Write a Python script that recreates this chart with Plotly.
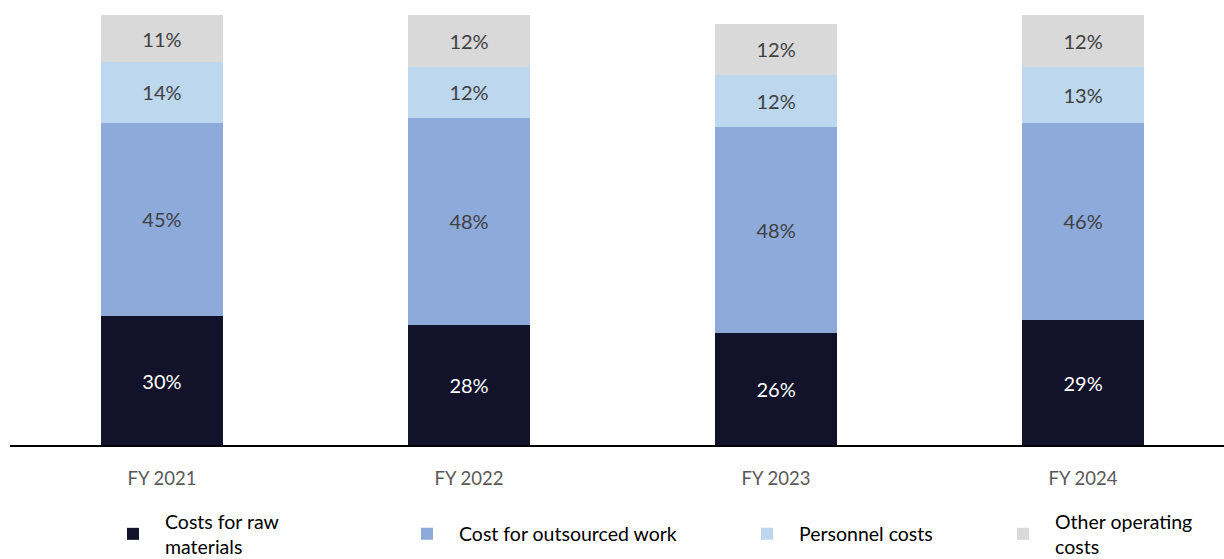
import plotly.graph_objects as go

# Cost structure by fiscal year (% of total operating costs)
years = ["FY 2021", "FY 2022", "FY 2023", "FY 2024"]
raw_materials = [30, 28, 26, 29]
outsourced_work = [45, 48, 48, 46]
personnel = [14, 12, 12, 13]
other_operating = [11, 12, 12, 12]

series = [
    ("Costs for raw<br>materials", raw_materials, "#12122a", "#ffffff", "legend"),
    ("Cost for outsourced work", outsourced_work, "#8eaadb", "#404040", "legend2"),
    ("Personnel costs", personnel, "#bdd7ee", "#404040", "legend3"),
    ("Other operating<br>costs", other_operating, "#d9d9d9", "#404040", "legend4"),
]

FONT = "Lato"
W, H = 1224, 559

fig = go.Figure()
for name, vals, color, txtcolor, leg in series:
    fig.add_trace(go.Bar(
        x=years, y=vals, name=name, legend=leg,
        marker=dict(color=color, line=dict(width=0)),
        text=[f"{v}%" for v in vals],
        textposition="inside", insidetextanchor="middle", textangle=0,
        textfont=dict(family=FONT, size=20, color=txtcolor),
        hoverinfo="skip",
    ))

# one legend box per series, placed along the bottom of the page
legend_marker_x = [133, 427, 767, 1023]
legend_y = 534
legends = {}
for i, key in enumerate(["legend", "legend2", "legend3", "legend4"]):
    legends[key] = dict(
        xref="container", yref="container",
        x=(legend_marker_x[i] - 32) / W, y=1 - legend_y / H,
        xanchor="left", yanchor="middle",
        orientation="h", itemwidth=54,
        font=dict(family=FONT, size=19.5, color="#000000"),
        bgcolor="rgba(0,0,0,0)", borderwidth=0,
        itemclick=False, itemdoubleclick=False,
    )

fig.update_layout(
    width=W, height=H,
    barmode="stack", bargap=0.6,
    plot_bgcolor="white", paper_bgcolor="white",
    margin=dict(l=10, r=0, t=0, b=114),
    showlegend=True,
    **legends,
    xaxis=dict(
        type="category", range=[-0.495, 3.459],
        showline=True, linecolor="#000000", linewidth=2,
        ticks="", showgrid=False, zeroline=False,
        tickfont=dict(family=FONT, size=18.5, color="#595959"),
        ticklabelstandoff=16, fixedrange=True,
    ),
    yaxis=dict(
        range=[0, 103.5], visible=False, showgrid=False,
        zeroline=False, fixedrange=True,
    ),
)

fig.write_html("out.html")
